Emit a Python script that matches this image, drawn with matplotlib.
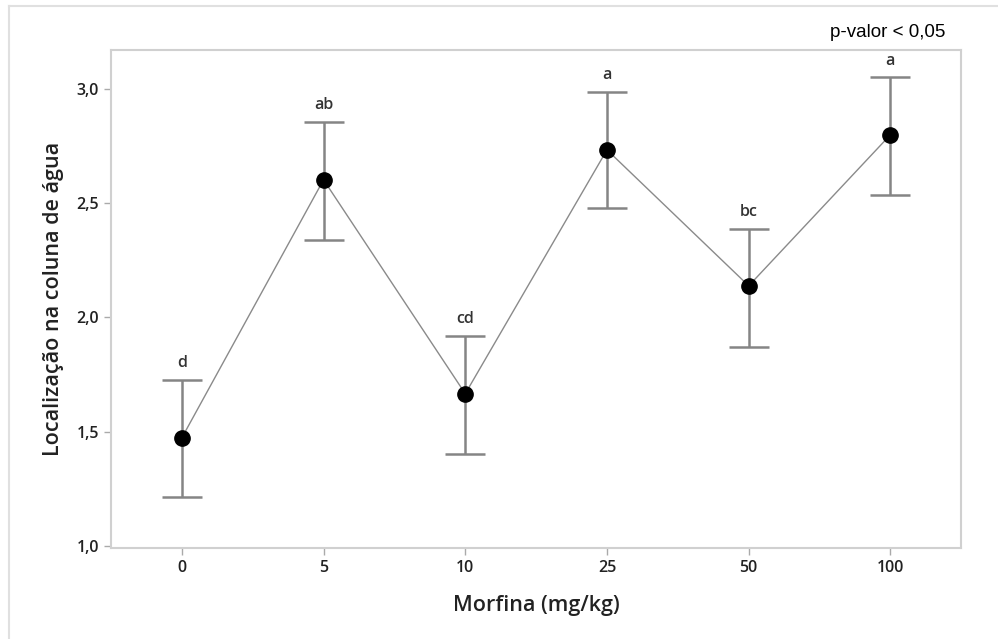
import matplotlib.pyplot as plt
from matplotlib.lines import Line2D
from matplotlib.ticker import FuncFormatter, MultipleLocator

# Data
doses = ["0", "5", "10", "25", "50", "100"]
means = [1.473, 2.602, 1.666, 2.733, 2.138, 2.799]
err_low = [0.258, 0.263, 0.263, 0.254, 0.267, 0.263]
err_high = [0.254, 0.254, 0.254, 0.254, 0.250, 0.253]
letters = ["d", "ab", "cd", "a", "bc", "a"]

fig = plt.figure(figsize=(9.98, 6.39), dpi=100)
ax = fig.add_axes([0.1112, 0.1424, 0.852, 0.7794])

x = list(range(len(doses)))
ax.plot(x, means, color="#8a8a8a", lw=1.0, zorder=2)
ax.errorbar(x, means, yerr=[err_low, err_high], fmt="none", ecolor="#858585",
            elinewidth=1.8, capsize=14.5, capthick=1.8, zorder=1)
ax.plot(x, means, "o", color="black", ms=11, zorder=3)

for xi, m, eh, lab in zip(x, means, err_high, letters):
    ax.annotate(lab, xy=(xi, m + eh), xytext=(0, 6), textcoords="offset points",
                ha="center", va="bottom", fontsize=11.5, family="Open Sans",
                fontweight="semibold", color="#333333")

ax.set_xlim(-0.5, 5.5)
ax.set_ylim(0.991, 3.17)
ax.set_xticks(x)
ax.set_xticklabels(doses)
ax.yaxis.set_major_locator(MultipleLocator(0.5))
ax.yaxis.set_major_formatter(FuncFormatter(lambda v, p: f"{v:.1f}".replace(".", ",")))

for s in ax.spines.values():
    s.set_color("#d0d0d0")
    s.set_linewidth(1.5)
ax.tick_params(colors="#aaaaaa", length=5, width=1, labelcolor="#222222")
for lab in ax.get_xticklabels() + ax.get_yticklabels():
    lab.set_family("Open Sans")
    lab.set_fontweight("semibold")
    lab.set_fontsize(11.5)

ax.set_xlabel("Morfina (mg/kg)", family="Open Sans", fontweight="semibold",
              fontsize=15.5, color="#222222", labelpad=14)
ax.set_ylabel("Localização na coluna de água", family="Open Sans",
              fontweight="semibold", fontsize=15.5, color="#222222", labelpad=9)

fig.text(0.947, 0.949, "p-valor < 0,05", ha="right", va="center",
         family="Liberation Sans", fontsize=13.5, color="black")

# light frame lines on the top and left of the figure
fig.add_artist(Line2D([0.009, 1.0], [0.991, 0.991], color="#e0e0e0", lw=1.5))
fig.add_artist(Line2D([0.009, 0.009], [0.0, 0.991], color="#e0e0e0", lw=1.5))

fig.savefig("out.png", dpi=100)
